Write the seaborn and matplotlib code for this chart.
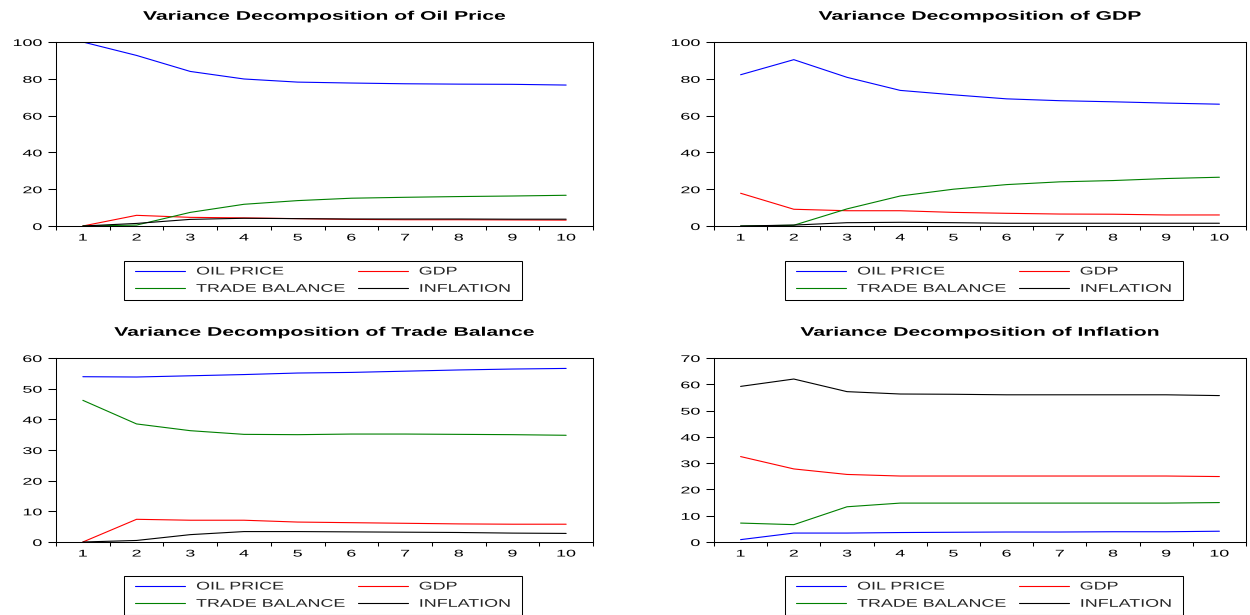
import numpy as np
import pandas as pd
import matplotlib
matplotlib.use("Agg")
import matplotlib.pyplot as plt
import seaborn as sns
from matplotlib.patheffects import AbstractPathEffect
from matplotlib.transforms import Affine2D
from matplotlib.path import Path
from matplotlib.legend_handler import HandlerLine2D

# ---------------- data ----------------
periods = [1, 2, 3, 4, 5, 6, 7, 8, 9, 10]
series_names = ["OIL PRICE", "GDP", "TRADE BALANCE", "INFLATION"]
titles = ["Variance Decomposition of Oil Price",
          "Variance Decomposition of GDP",
          "Variance Decomposition of Trade Balance",
          "Variance Decomposition of Inflation"]

# Variance decomposition of Oil Price
vd_oil_oil = [100.0, 92.7, 84.0, 79.9, 78.2, 77.7, 77.3, 77.1, 77.0, 76.6]
vd_oil_gdp = [0.0, 5.8, 4.7, 4.4, 4.0, 3.6, 3.4, 3.4, 3.3, 3.2]
vd_oil_trade = [0.0, 0.5, 7.4, 11.8, 13.8, 15.1, 15.6, 16.0, 16.3, 16.7]
vd_oil_infl = [0.0, 1.4, 3.6, 4.2, 4.0, 3.8, 3.8, 3.8, 3.7, 3.7]

# Variance decomposition of GDP
vd_gdp_oil = [82.2, 90.4, 80.8, 73.7, 71.3, 69.1, 68.1, 67.5, 66.8, 66.2]
vd_gdp_gdp = [17.8, 9.1, 8.3, 8.3, 7.4, 6.9, 6.5, 6.4, 6.0, 6.0]
vd_gdp_trade = [0.0, 0.4, 9.3, 16.3, 20.0, 22.5, 24.0, 24.7, 25.8, 26.5]
vd_gdp_infl = [0.0, 0.5, 1.8, 2.0, 1.8, 1.5, 1.5, 1.5, 1.5, 1.5]

# Variance decomposition of Trade Balance
vd_tb_oil = [53.9, 53.8, 54.2, 54.6, 55.1, 55.3, 55.7, 56.1, 56.4, 56.6]
vd_tb_gdp = [0.0, 7.4, 7.1, 7.1, 6.5, 6.3, 6.1, 5.9, 5.8, 5.8]
vd_tb_trade = [46.2, 38.5, 36.3, 35.1, 35.0, 35.2, 35.2, 35.1, 35.0, 34.8]
vd_tb_infl = [0.0, 0.5, 2.4, 3.4, 3.4, 3.3, 3.2, 3.1, 2.9, 2.8]

# Variance decomposition of Inflation
vd_inf_oil = [0.9, 3.4, 3.4, 3.6, 3.7, 3.8, 3.8, 3.9, 3.9, 4.1]
vd_inf_gdp = [32.5, 27.8, 25.7, 25.1, 25.1, 25.1, 25.1, 25.1, 25.1, 24.9]
vd_inf_trade = [7.2, 6.6, 13.4, 14.8, 14.8, 14.8, 14.8, 14.8, 14.8, 15.0]
vd_inf_infl = [59.2, 62.0, 57.2, 56.3, 56.2, 56.0, 56.0, 56.0, 56.0, 55.7]

yticks_oil = [0, 20, 40, 60, 80, 100]
yticks_gdp = [0, 20, 40, 60, 80, 100]
yticks_tb = [0, 10, 20, 30, 40, 50, 60]
yticks_inf = [0, 10, 20, 30, 40, 50, 60, 70]

# ---------------- style ----------------
colors = {"OIL PRICE": "#0000ff", "GDP": "#ff0000",
          "TRADE BALANCE": "#008000", "INFLATION": "#000000"}

sns.set_theme(style="white")
plt.rcParams["font.family"] = ["Liberation Sans", "DejaVu Sans"]


class Stretch(AbstractPathEffect):
    """Draw text path scaled horizontally/vertically about an anchor."""

    def __init__(self, sx=1.0, sy=1.0, anchor="center"):
        super().__init__((0.0, 0.0))
        self.sx, self.sy, self.anchor = sx, sy, anchor

    def draw_path(self, renderer, gc, tpath, affine, rgbFace=None):
        v = np.asarray(tpath.vertices)
        if tpath.codes is not None:
            v = v[np.asarray(tpath.codes) != Path.CLOSEPOLY]
        if len(v) == 0:
            return
        x0, x1 = v[:, 0].min(), v[:, 0].max()
        y0, y1 = v[:, 1].min(), v[:, 1].max()
        axp = {"left": x0, "right": x1, "center": 0.5 * (x0 + x1)}[self.anchor]
        ayp = 0.5 * (y0 + y1)
        t = Affine2D().translate(-axp, -ayp).scale(self.sx, self.sy).translate(axp, ayp)
        renderer.draw_path(gc, tpath, t + affine, rgbFace)


W, H = 1250, 615
fig = plt.figure(figsize=(12.5, 6.15), dpi=100)
fig.patch.set_facecolor("white")


def rect(l, r, t, b):
    return [l / W, 1 - b / H, (r - l) / W, (b - t) / H]


panels = [
    (rect(56, 593, 42, 226), titles[0], yticks_oil,
     [vd_oil_oil, vd_oil_gdp, vd_oil_trade, vd_oil_infl], (124, 261)),
    (rect(714, 1246, 42, 226), titles[1], yticks_gdp,
     [vd_gdp_oil, vd_gdp_gdp, vd_gdp_trade, vd_gdp_infl], (785, 261)),
    (rect(56, 593, 358, 542), titles[2], yticks_tb,
     [vd_tb_oil, vd_tb_gdp, vd_tb_trade, vd_tb_infl], (124, 576)),
    (rect(714, 1246, 358, 542), titles[3], yticks_inf,
     [vd_inf_oil, vd_inf_gdp, vd_inf_trade, vd_inf_infl], (785, 576)),
]

LEG_PX = 19.9                      # legend font size in px (layout)
LEG_PT = LEG_PX * 72 / 100
XPAD_PX = 9.5
COLSEP_PX = -13.5

for r, title, yt, data, (lx, ly) in panels:
    ax = fig.add_axes(r)
    df = pd.DataFrame({
        "period": periods * 4,
        "share": sum(data, []),
        "shock": np.repeat(series_names, len(periods)),
    })
    sns.lineplot(data=df, x="period", y="share", hue="shock",
                 hue_order=series_names, palette=colors, ax=ax,
                 linewidth=0.8, legend=False)
    ax.set_xlabel("")
    ax.set_ylabel("")
    ax.set_xlim(0.5, 10.5)
    ax.set_ylim(yt[0], yt[-1])
    ax.set_yticks(yt)
    ax.set_xticks(periods)
    ax.set_xticks(np.arange(0.5, 11.0, 1.0), minor=True)
    ax.tick_params(axis="y", which="major", direction="out", length=5.8,
                   width=0.75, pad=4.3, labelsize=7, left=True, colors="black")
    ax.tick_params(axis="x", which="major", length=0, pad=4.7,
                   labelsize=7, bottom=True, colors="black")
    ax.tick_params(axis="x", which="minor", direction="out", length=3,
                   width=0.75, bottom=True, colors="black")
    for s in ax.spines.values():
        s.set_color("black")
        s.set_linewidth(0.75)
        s.set_visible(True)
    ax.grid(False)

    t = ax.set_title(title, fontsize=9, fontweight="bold", pad=16, color="black")
    t.set_path_effects([Stretch(sx=1.69, anchor="center")])
    for lab in ax.get_yticklabels():
        lab.set_path_effects([Stretch(sx=1.84, anchor="right")])
    for lab in ax.get_xticklabels():
        lab.set_path_effects([Stretch(sx=1.84, anchor="center")])

    lines = ax.get_lines()
    handles = [lines[0], lines[2], lines[1], lines[3]]
    labels = [series_names[0], series_names[2], series_names[1], series_names[3]]
    leg = fig.legend(handles, labels, ncol=2, loc="upper left",
                     bbox_to_anchor=(lx / W, 1 - ly / H),
                     bbox_transform=fig.transFigure,
                     fontsize=LEG_PT, frameon=True, fancybox=False,
                     edgecolor="black", framealpha=1.0,
                     borderpad=1.5 / LEG_PX, borderaxespad=0,
                     handlelength=(50 + XPAD_PX) / LEG_PX,
                     handletextpad=11 / LEG_PX,
                     columnspacing=COLSEP_PX / LEG_PX,
                     labelspacing=-0.085,
                     handler_map={h: HandlerLine2D(xpad=XPAD_PX / LEG_PX) for h in handles})
    leg.get_frame().set_linewidth(0.75)
    for txt in leg.get_texts():
        txt.set_path_effects([Stretch(sx=0.9, sy=0.56, anchor="left")])

fig.savefig("out.png", dpi=100, facecolor="white")
